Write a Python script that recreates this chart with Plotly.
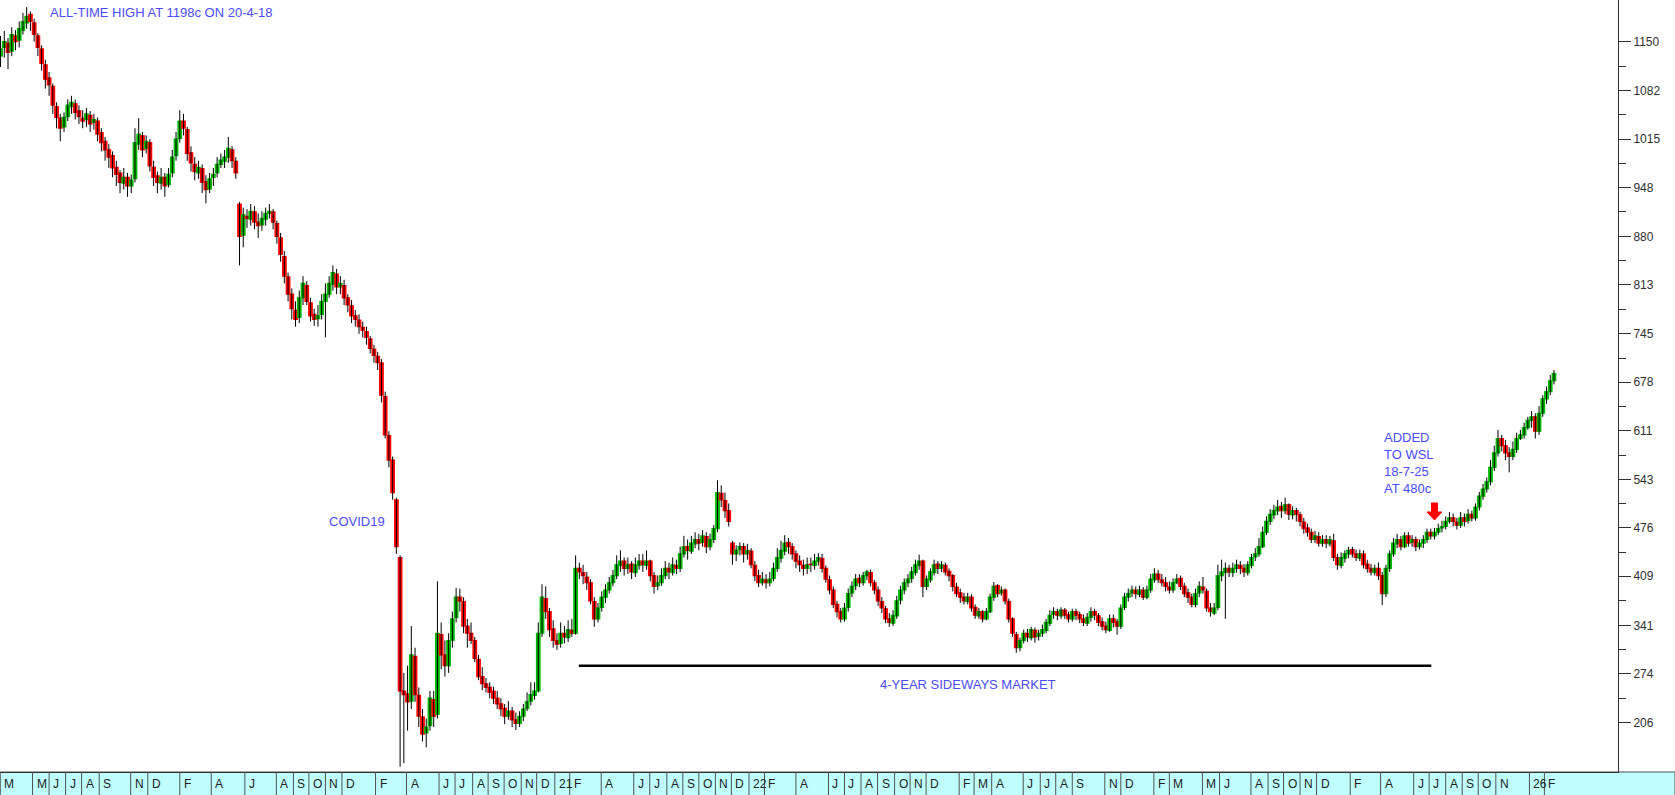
import pandas as pd
import plotly.graph_objects as go

# Weekly OHLC (cents), first week ending 2018-03-02
opens = [1130,1142,1148,1137,1158,1152,1166,1176,1188,1176,
1158,1140,1118,1100,1088,1060,1044,1032,1046,1060,
1064,1054,1044,1042,1048,1038,1040,1024,1012,1000,
992,976,968,954,962,950,960,1008,1020,1002,
1010,976,964,954,962,952,968,992,1016,1040,
1028,996,980,968,974,956,946,962,968,980,
984,990,1000,984,925,882,908,904,914,900,
896,904,912,914,898,878,852,824,800,778,
768,795,812,788,772,766,772,790,800,814,
828,810,812,795,784,770,764,754,748,738,
724,714,705,658,604,570,515,435,250,246,
236,298,244,214,192,202,238,218,328,300,
285,320,352,380,374,340,330,320,294,270,
260,255,250,240,232,226,215,222,210,205,
215,226,236,244,250,330,378,360,336,320,
316,330,324,334,330,420,414,408,400,374,
350,366,380,390,400,410,424,430,420,426,
414,424,430,424,430,410,396,400,410,420,
414,424,420,440,450,444,454,460,456,464,
450,460,475,524,514,500,455,440,446,450,
440,444,424,410,400,404,400,406,420,434,
444,456,450,440,430,424,420,426,424,430,
434,420,404,390,370,360,350,366,386,396,
406,400,410,414,400,390,374,364,350,344,
354,376,390,400,406,414,424,430,395,404,
414,426,420,424,416,410,394,386,380,374,
380,366,354,360,350,360,380,396,386,390,
374,350,328,310,320,330,324,334,326,330,
334,344,356,360,354,362,356,350,360,356,
350,344,352,360,354,346,340,334,350,346,
340,366,380,386,390,384,390,380,390,404,
412,404,400,394,390,400,406,395,386,380,
370,386,394,388,365,358,366,410,414,420,
414,420,424,420,414,424,436,440,450,470,
485,494,500,506,500,508,494,500,494,484,
476,470,460,464,455,460,454,458,435,424,
434,440,446,440,434,440,426,420,414,420,
410,385,420,440,454,460,450,465,456,460,
450,455,460,470,465,470,476,478,485,490,
484,480,490,486,495,490,505,520,530,540,
560,580,600,590,580,575,585,600,605,615,
625,630,610,635,655,665,680]

highs = [1158,1165,1155,1170,1166,1178,1190,1198,1192,1182,
1162,1145,1125,1108,1092,1066,1050,1052,1070,1075,
1070,1062,1055,1058,1054,1050,1045,1030,1018,1008,
998,985,972,975,968,966,1030,1044,1025,1020,
1015,985,970,975,968,975,1000,1025,1055,1050,
1032,1005,990,985,980,965,968,975,990,995,
1000,1018,1005,990,928,920,918,925,922,912,
915,920,925,918,902,885,860,830,808,790,
805,825,818,795,780,785,800,815,825,840,
835,825,820,800,792,778,772,762,755,742,
730,720,710,665,610,575,518,438,275,285,
340,310,255,225,212,250,250,402,345,320,
330,360,393,392,380,350,345,325,300,283,
268,262,256,250,240,232,236,228,220,222,
232,248,262,262,345,398,395,365,348,330,
345,340,348,350,438,428,425,415,405,380,
372,388,398,408,418,438,445,435,435,430,
435,440,440,445,432,415,410,420,430,428,
435,432,450,465,460,465,470,468,473,470,
468,480,542,535,525,510,458,452,456,455,
454,448,430,418,415,412,415,428,448,458,
466,462,455,445,438,432,435,435,440,441,
440,424,410,395,375,365,372,392,402,412,
412,415,418,418,404,395,380,368,358,362,
382,396,406,412,422,432,439,432,410,420,
432,430,430,428,420,412,400,392,386,386,
384,370,365,362,365,385,401,398,395,392,
378,352,332,324,335,336,339,338,335,342,
350,362,366,364,366,365,360,364,364,360,
356,358,366,364,358,352,346,356,356,350,
370,386,392,396,395,396,394,396,412,420,
418,412,408,402,406,412,410,400,392,385,
392,402,408,392,372,372,425,432,428,425,
428,432,430,426,430,440,448,462,478,492,
502,508,515,512,518,510,506,504,498,490,
482,475,472,470,466,466,465,468,440,442,
445,450,450,446,446,445,432,426,425,428,
415,425,445,462,468,465,470,470,466,464,
460,466,475,475,476,482,486,492,498,496,
490,498,496,502,500,510,526,537,546,570,
590,612,605,598,588,596,608,612,622,630,
638,635,645,660,672,688,695]

lows = [1115,1128,1112,1130,1138,1142,1160,1168,1165,1150,
1130,1110,1085,1075,1050,1030,1012,1025,1040,1050,
1042,1036,1030,1032,1025,1028,1012,998,985,975,
962,950,940,945,935,940,955,1000,990,995,
970,950,940,945,935,948,962,985,1010,1020,
985,970,958,960,940,926,940,950,962,975,
975,982,975,960,840,865,892,895,890,878,
888,895,905,890,870,845,815,790,765,755,
760,785,785,762,756,755,765,740,795,805,
800,800,785,775,760,755,745,740,730,718,
705,695,650,600,560,515,440,145,150,195,
225,235,200,180,172,195,200,212,280,270,
275,310,345,360,330,310,315,290,265,251,
248,240,232,225,215,204,210,200,196,200,
208,222,230,238,248,325,350,325,310,307,
310,316,318,325,328,405,398,390,370,339,
345,360,372,385,395,405,415,410,412,405,
408,418,415,418,402,385,390,396,405,405,
410,412,415,435,432,440,448,445,450,441,
445,455,470,505,490,478,425,430,438,428,
432,420,402,394,396,392,395,402,415,428,
438,440,432,420,415,410,412,415,418,424,
414,400,384,365,352,345,346,360,380,390,
394,396,404,395,384,368,358,344,339,340,
350,370,384,394,400,410,418,380,390,400,
410,412,415,410,402,388,380,372,370,370,
360,350,350,345,348,358,375,380,382,370,
345,325,303,305,316,318,320,317,320,325,
330,340,350,348,350,350,345,346,348,344,
340,340,346,348,340,334,330,332,338,328,
336,362,374,380,378,380,376,377,386,400,
400,395,388,385,386,398,390,380,372,366,
366,380,385,360,353,355,362,402,350,408,
408,414,412,408,410,420,430,436,448,466,
480,488,494,490,495,487,488,485,478,468,
464,455,455,450,450,448,450,430,418,420,
428,434,435,430,430,420,414,410,410,404,
369,380,415,436,448,445,448,450,450,444,
446,448,455,460,460,466,470,474,482,478,
474,476,478,482,485,486,500,515,525,535,
555,575,582,570,553,570,580,598,600,612,
615,600,605,630,648,660,675]

closes = [1140,1150,1135,1160,1150,1168,1178,1185,1178,1160,
1142,1120,1098,1090,1062,1045,1030,1045,1062,1066,
1052,1046,1040,1050,1036,1042,1022,1010,1000,990,
975,966,955,962,950,958,1010,1022,1000,1012,
978,962,955,962,950,966,990,1015,1040,1030,
995,982,970,976,955,945,960,966,980,986,
990,1002,985,968,880,910,905,915,900,895,
905,912,915,900,880,855,825,800,780,765,
795,815,790,770,765,770,790,800,815,830,
810,815,795,785,770,765,755,750,740,725,
715,705,660,605,570,525,450,250,245,235,
300,245,215,190,200,240,215,330,300,285,
320,350,380,375,340,330,320,295,270,260,
255,248,240,232,225,215,222,210,205,215,
225,235,245,250,330,380,360,335,320,315,
330,325,335,330,420,415,410,400,375,350,
365,380,390,400,410,425,430,420,425,415,
425,430,425,430,410,395,400,410,420,415,
425,420,440,450,445,455,460,455,465,450,
460,475,525,515,500,485,440,445,450,440,
445,425,410,400,405,400,405,420,435,445,
455,450,440,430,425,420,425,425,430,435,
420,405,390,370,360,350,365,385,395,405,
400,410,415,400,390,375,365,350,345,355,
375,390,400,405,415,425,430,395,405,415,
425,420,425,415,410,395,385,380,375,380,
365,355,360,350,360,380,395,385,390,375,
350,330,310,320,330,325,335,325,330,335,
345,355,360,355,362,355,350,360,355,350,
345,352,360,355,345,340,335,350,345,340,
365,380,385,390,385,390,380,390,405,412,
405,400,395,390,400,405,395,385,380,370,
385,395,390,365,360,365,410,415,420,415,
420,425,420,415,425,435,440,450,470,485,
495,500,505,500,508,495,500,495,485,475,
470,460,465,455,460,455,460,435,425,435,
440,445,440,435,440,425,420,415,420,410,
385,420,440,455,460,450,465,455,460,450,
455,460,470,465,470,475,478,485,490,485,
480,490,485,495,490,505,520,530,540,560,
580,600,590,580,575,585,600,605,615,625,
630,610,635,655,665,680,690]

assert len(opens) == len(highs) == len(lows) == len(closes)
dates = pd.date_range("2018-03-02", periods=len(closes), freq="7D")

# Month strip (first trading day of each labelled month)
month_dates = ["2018-03-01","2018-05-01","2018-06-01","2018-07-02","2018-08-01","2018-09-03",
"2018-11-01","2018-12-03","2019-02-01","2019-04-01","2019-06-03","2019-08-01","2019-09-02",
"2019-10-01","2019-11-01","2019-12-02","2020-02-03","2020-04-01","2020-06-01","2020-07-01",
"2020-08-03","2020-09-01","2020-10-01","2020-11-02","2020-12-01","2021-01-04","2021-02-01",
"2021-04-01","2021-06-01","2021-07-01","2021-08-02","2021-09-01","2021-10-01","2021-11-01",
"2021-12-01","2022-01-03","2022-02-01","2022-04-01","2022-06-01","2022-07-01","2022-08-01",
"2022-09-01","2022-10-03","2022-11-01","2022-12-01","2023-02-01","2023-03-01","2023-04-03",
"2023-06-01","2023-07-03","2023-08-01","2023-09-01","2023-11-01","2023-12-01","2024-02-01",
"2024-03-01","2024-05-02","2024-06-03","2024-08-01","2024-09-02","2024-10-01","2024-11-01",
"2024-12-02","2025-02-03","2025-04-01","2025-06-02","2025-07-01","2025-08-01","2025-09-01",
"2025-10-01","2025-11-03","2026-01-05","2026-02-02"]
month_labels = ["M","M","J","J","A","S","N","D","F","A","J","A","S","O","N","D","F","A","J","J",
"A","S","O","N","D","21","F","A","J","J","A","S","O","N","D","22","F","A","J","J","A","S","O",
"N","D","F","M","A","J","J","A","S","N","D","F","M","M","J","A","S","O","N","D","F","A","J","J",
"A","S","O","N","26","F"]

y_ticks = [206, 274, 341, 409, 476, 543, 611, 678, 745, 813, 880, 948, 1015, 1082, 1150]
y_minor = [240, 307.5, 375, 442.5, 509.5, 577, 644.5, 711.5, 779, 846.5, 914, 981.5, 1048.5, 1116]

GREEN = "#00B800"
RED = "#FF0000"
BLUE = "#4B4BFF"
FONT = "Arial, Liberation Sans, sans-serif"

W, H = 1675, 795
ML, MR, MT, MB = 0, 57, 0, 23
PW, PH = W - ML - MR, H - MT - MB

body_hi = [max(o, c) for o, c in zip(opens, closes)]
body_lo = [min(o, c) for o, c in zip(opens, closes)]

fig = go.Figure()
fig.add_trace(go.Ohlc(
    x=dates, open=opens, high=highs, low=lows, close=closes,
    increasing=dict(line=dict(color="black", width=1)),
    decreasing=dict(line=dict(color="black", width=1)),
    tickwidth=0, hoverinfo="skip", showlegend=False))
fig.add_trace(go.Candlestick(
    x=dates, open=opens, high=body_hi, low=body_lo, close=closes,
    increasing=dict(line=dict(color=GREEN, width=1.2), fillcolor=GREEN),
    decreasing=dict(line=dict(color=RED, width=1.2), fillcolor=RED),
    whiskerwidth=0, hoverinfo="skip", showlegend=False))

shapes = []
strip_y0 = -MB / PH
# bottom month strip
shapes.append(dict(type="rect", xref="paper", yref="paper", x0=0, x1=W / PW,
                   y0=strip_y0 - 0.01, y1=0, fillcolor="#BFFFFF",
                   line=dict(color="#505050", width=1), layer="below"))
annotations = []
for d, lab in zip(month_dates, month_labels):
    shapes.append(dict(type="line", xref="x", yref="paper", x0=d, x1=d,
                       y0=strip_y0 - 0.01, y1=0, line=dict(color="#505050", width=1)))
    annotations.append(dict(x=d, y=strip_y0 / 2, xref="x", yref="paper", text=lab,
                            showarrow=False, xanchor="left", yanchor="middle", xshift=2,
                            font=dict(family=FONT, size=12, color="#202020")))

# 4-year sideways market line
shapes.append(dict(type="line", xref="x", yref="y", x0="2021-02-18", x1="2025-07-05",
                   y0=285, y1=285, line=dict(color="black", width=2.5)))
# red arrow (tip at 18-7-25 area)
shapes.append(dict(type="path", xref="x", yref="y", xsizemode="pixel", ysizemode="pixel",
                   xanchor="2025-07-11", yanchor=487,
                   path="M -3,17 L 3,17 L 3,8 L 7.5,8 L 0,0 L -7.5,8 L -3,8 Z",
                   fillcolor=RED, line=dict(color=RED, width=1)))

def txt(x, y, s):
    annotations.append(dict(x=x / PW, y=1 - y / PH, xref="paper", yref="paper", text=s,
                            showarrow=False, xanchor="left", yanchor="middle", align="left",
                            font=dict(family=FONT, size=13, color=BLUE)))

txt(48, 13, "ALL-TIME HIGH AT 1198c ON 20-4-18")
txt(327, 521, "COVID19")
txt(1382, 463, "ADDED<br>TO WSL<br>18-7-25<br>AT 480c")
txt(878, 684, "4-YEAR SIDEWAYS MARKET")

fig.update_layout(
    width=W, height=H,
    margin=dict(l=ML, r=MR, t=MT, b=MB, pad=0),
    paper_bgcolor="white", plot_bgcolor="white",
    showlegend=False, shapes=shapes, annotations=annotations,
    hovermode=False, boxgap=0.05, boxgroupgap=0,
    xaxis=dict(type="date", range=["2018-03-01", "2026-06-20"], rangeslider=dict(visible=False),
               showgrid=False, zeroline=False, showticklabels=False, ticks="",
               showline=True, linecolor="#303030", linewidth=1),
    yaxis=dict(side="right", range=[137.7, 1207.8], showgrid=False, zeroline=False,
               tickmode="array", tickvals=y_ticks, ticktext=[str(v) for v in y_ticks],
               ticks="outside", ticklen=12, tickwidth=1, tickcolor="#303030",
               showline=True, linecolor="#303030", linewidth=1,
               tickfont=dict(family=FONT, size=12, color="#303030"),
               minor=dict(tickvals=y_minor, ticks="outside", ticklen=7, tickwidth=1,
                          tickcolor="#303030")),
)

fig.write_html("out.html", config={"displayModeBar": False, "staticPlot": True},
               post_script="document.body.style.margin='0px';document.body.style.overflow='hidden';")
